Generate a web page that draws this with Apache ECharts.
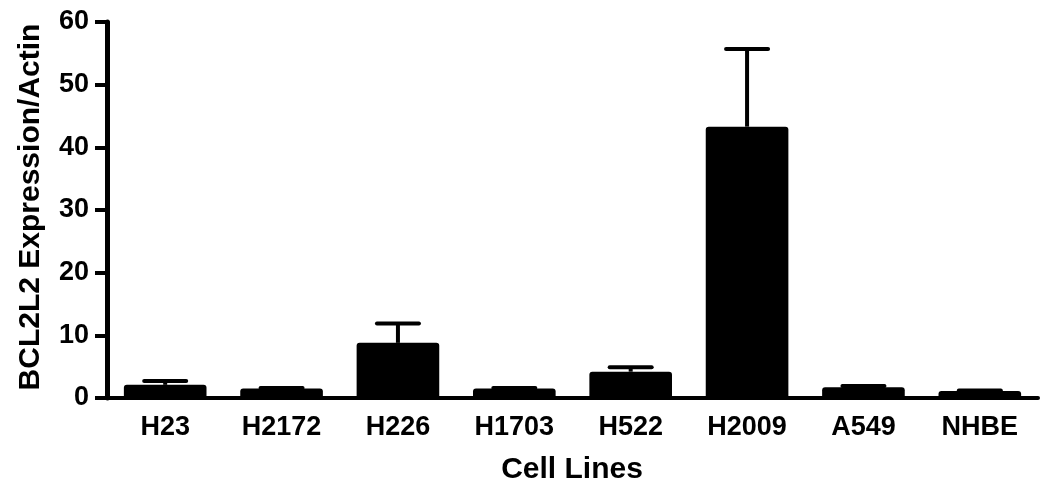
<!DOCTYPE html>
<html>
<head>
    <title>BCL2L2 Expression</title>
    <script src="https://cdn.jsdelivr.net/npm/echarts@6/dist/echarts.min.js"></script>
    <style>
        body {
            margin: 0;
            padding: 0;
            background-color: #ffffff;
        }

        #chart {
            width: 1050px;
            height: 491px;
        }
    </style>
</head>
<body>
    <div id="chart"></div>

    <script>
        // cell lines and values
        var cellLines = ['H23', 'H2172', 'H226', 'H1703', 'H522', 'H2009', 'A549', 'NHBE'];
        var expression = [2.1, 1.5, 8.8, 1.5, 4.2, 43.3, 1.7, 1.1];
        var errorUp = [0.6, 0.1, 3.1, 0.1, 0.7, 12.4, 0.2, 0.1];
        var yTicks = [0, 10, 20, 30, 40, 50, 60];

        var font = 'Liberation Sans, Arial, sans-serif';

        var chart = echarts.init(document.getElementById('chart'));

        var errorData = cellLines.map(function (c, i) {
            return [i, expression[i], expression[i] + errorUp[i]];
        });

        var option = {
            animation: false,
            grid: {
                left: 107,
                right: 12,
                top: 22,
                bottom: 93,
                outerBoundsMode: 'none',
                containLabel: false
            },
            // axis titles placed by hand, the built-in name kept drifting off the labels
            graphic: [
                {
                    type: 'text',
                    x: 31,
                    y: 207,
                    rotation: Math.PI / 2,
                    style: {
                        text: 'BCL2L2 Expression/Actin',
                        fontFamily: font,
                        fontWeight: 'bold',
                        fontSize: 30,
                        fill: '#000',
                        align: 'center',
                        verticalAlign: 'middle'
                    }
                },
                {
                    type: 'text',
                    x: 572,
                    y: 470,
                    style: {
                        text: 'Cell Lines',
                        fontFamily: font,
                        fontWeight: 'bold',
                        fontSize: 30,
                        fill: '#000',
                        align: 'center',
                        verticalAlign: 'middle'
                    }
                }
            ],
            xAxis: {
                type: 'category',
                data: cellLines,
                axisLine: {
                    lineStyle: { color: '#000', width: 4 }
                },
                axisTick: {
                    alignWithLabel: true,
                    length: 12,
                    lineStyle: { color: '#000', width: 4 }
                },
                axisLabel: {
                    margin: 6,
                    fontFamily: font,
                    fontWeight: 'bold',
                    fontSize: 27,
                    color: '#000'
                }
            },
            yAxis: {
                type: 'value',
                min: yTicks[0],
                max: yTicks[yTicks.length - 1],
                interval: 10,
                axisLine: {
                    show: true,
                    lineStyle: { color: '#000', width: 5 }
                },
                axisTick: {
                    show: true,
                    length: 12,
                    lineStyle: { color: '#000', width: 4 }
                },
                axisLabel: {
                    margin: 18,
                    fontFamily: font,
                    fontWeight: 'bold',
                    fontSize: 27,
                    color: '#000'
                },
                splitLine: { show: false }
            },
            series: [
                {
                    type: 'custom',
                    data: errorData,
                    z: 1,
                    renderItem: function (params, api) {
                        var base = api.coord([api.value(0), api.value(1)]);
                        var top = api.coord([api.value(0), api.value(2)]);
                        var half = 21;
                        return {
                            type: 'group',
                            children: [
                                {
                                    type: 'line',
                                    shape: { x1: base[0], y1: base[1], x2: top[0], y2: top[1] },
                                    style: { stroke: '#000', lineWidth: 4 }
                                },
                                {
                                    type: 'line',
                                    shape: { x1: top[0] - half, y1: top[1], x2: top[0] + half, y2: top[1] },
                                    style: { stroke: '#000', lineWidth: 4, lineCap: 'round' }
                                }
                            ]
                        };
                    }
                },
                {
                    type: 'bar',
                    data: expression,
                    barCategoryGap: '29%',
                    z: 2,
                    itemStyle: {
                        color: '#000',
                        borderRadius: [3, 3, 0, 0]
                    }
                }
            ]
        };

        chart.setOption(option);
    </script>
</body>
</html>
